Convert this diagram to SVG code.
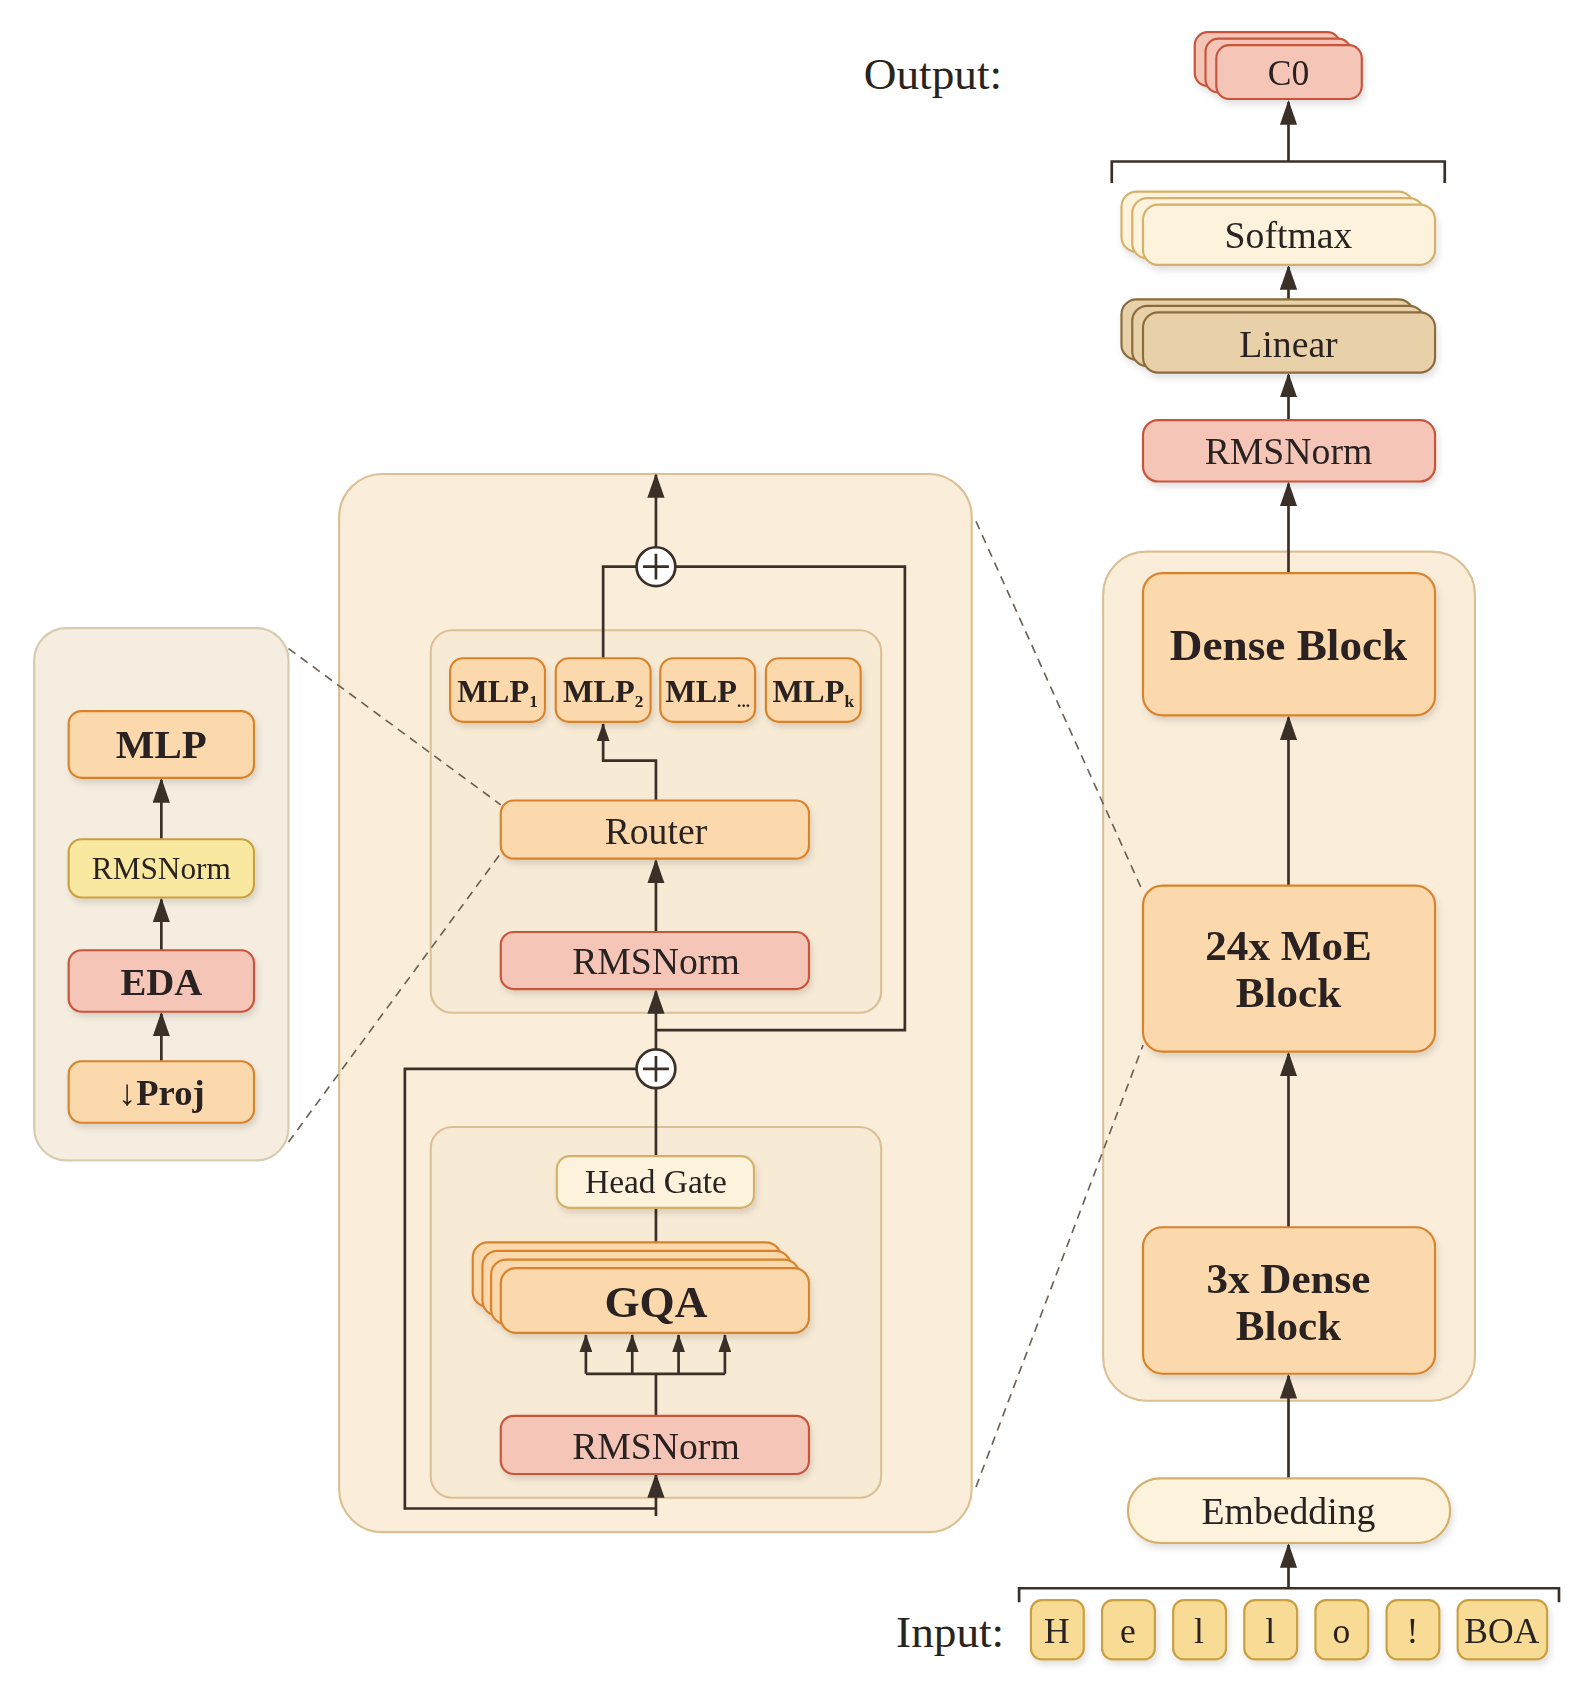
<svg xmlns="http://www.w3.org/2000/svg" width="1584" height="1696" viewBox="0 0 1584 1696">
<style>
text{font-family:"Liberation Serif","Times New Roman",serif;fill:#2a2420;text-anchor:middle;dominant-baseline:central}
.red{fill:#f5c6b8;stroke:#c8553a;stroke-width:2}
.org{fill:#fcd9ad;stroke:#d9822b;stroke-width:2}
.crm{fill:#fdf2dc;stroke:#d4b06a;stroke-width:2}
.tan{fill:#e8d0a8;stroke:#8b6b3a;stroke-width:2}
.yel{fill:#f8dc96;stroke:#c9a040;stroke-width:2}
.ln{fill:none;stroke:#3a3028;stroke-width:2.5}
.dash{fill:none;stroke:#6a5e52;stroke-width:1.5;stroke-dasharray:8 6}
.b{font-weight:bold}
</style>
<defs>
<marker id="ar" markerUnits="userSpaceOnUse" markerWidth="24" markerHeight="16" refX="21" refY="8" orient="auto" viewBox="0 0 24 16"><path d="M0 0 L23 8 L0 16 Z" fill="#3a3028"/></marker>
<marker id="as" markerUnits="userSpaceOnUse" markerWidth="18" markerHeight="12" refX="16" refY="6" orient="auto" viewBox="0 0 18 12"><path d="M0 0 L17 6 L0 12 Z" fill="#3a3028"/></marker>
<filter id="sh" x="-10%" y="-10%" width="130%" height="140%"><feDropShadow dx="2" dy="4" stdDeviation="3" flood-color="#000" flood-opacity="0.12"/></filter>
</defs>
<g transform="translate(4,2) scale(1.0776)">
<g id="panel-right"><rect x="1020" y="510" width="345" height="788" rx="40" fill="#faeedb" stroke="#dcc095" stroke-width="2"/></g>
<g id="panel-mid"><rect x="311" y="438" width="587" height="982" rx="40" fill="#faeedb" stroke="#dcc095" stroke-width="2"/>
<rect x="396" y="583" width="418" height="355" rx="20" fill="#f8ebd6" stroke="#dcc095" stroke-width="2"/>
<rect x="396" y="1044" width="418" height="344" rx="20" fill="#f8ebd6" stroke="#dcc095" stroke-width="2"/></g>
<g id="panel-left"><rect x="28" y="581" width="236" height="494" rx="30" fill="#f5ede0" stroke="#d8cbb0" stroke-width="2"/></g>

<g id="connectors">
<path class="ln" d="M1192 148 V93" marker-end="url(#ar)"/>
<path class="ln" d="M1028 168 V148 H1337 V168"/>
<path class="ln" d="M1192 287 V246" marker-end="url(#ar)"/>
<path class="ln" d="M1192 388 V346" marker-end="url(#ar)"/>
<path class="ln" d="M1192 530 V447" marker-end="url(#ar)"/>
<path class="ln" d="M1192 820 V664" marker-end="url(#ar)"/>
<path class="ln" d="M1192 1137 V976" marker-end="url(#ar)"/>
<path class="ln" d="M1192 1370 V1275" marker-end="url(#ar)"/>
<path class="ln" d="M1192 1472 V1432" marker-end="url(#ar)"/>
<path class="ln" d="M942 1485 V1472 H1443 V1485"/>
<path class="ln" d="M605 506 V439" marker-end="url(#ar)"/>
<path class="ln" d="M623 524 H836 V954 H605"/>
<path class="ln" d="M556 609 V524 H587"/>
<path class="ln" d="M605 741 V704 H556 V670" marker-end="url(#as)"/>
<path class="ln" d="M605 863 V797" marker-end="url(#ar)"/>
<path class="ln" d="M605 972 V918" marker-end="url(#ar)"/>
<path class="ln" d="M587 990 H372 V1398 H605"/>
<path class="ln" d="M605 1405 V1367" marker-end="url(#ar)"/>
<path class="ln" d="M605 1071 V1008"/>
<path class="ln" d="M605 1175 V1119"/>
<path class="ln" d="M605 1312 V1273 M540 1273 H669"/>
<path class="ln" d="M540 1273 V1237" marker-end="url(#as)"/>
<path class="ln" d="M583 1273 V1237" marker-end="url(#as)"/>
<path class="ln" d="M626 1273 V1237" marker-end="url(#as)"/>
<path class="ln" d="M669 1273 V1237" marker-end="url(#as)"/>
<path class="ln" d="M146 777 V722" marker-end="url(#ar)"/>
<path class="ln" d="M146 880 V833" marker-end="url(#ar)"/>
<path class="ln" d="M146 983 V939" marker-end="url(#ar)"/>
<path class="dash" d="M264 600 L461 745 M264 1058 L461 790 M902 482 L1057 826 M902 1378 L1057 968"/>
<g fill="#fff" stroke="#3a3028" stroke-width="2.5"><circle cx="605" cy="524" r="18"/><circle cx="605" cy="990" r="18"/></g>
<path class="ln" d="M593 524 H617 M605 512 V536 M593 990 H617 M605 978 V1002"/>
</g>

<text x="862" y="67" font-size="42">Output:</text>
<g id="c0" filter="url(#sh)"><rect class="red" x="1105" y="28" width="135" height="50" rx="12"/><rect class="red" x="1115" y="34" width="135" height="50" rx="12"/><rect class="red" x="1125" y="40" width="135" height="50" rx="12"/><text x="1192" y="66" font-size="33">C0</text></g>
<g id="softmax" filter="url(#sh)"><rect class="crm" x="1037" y="176" width="271" height="56" rx="14"/><rect class="crm" x="1047" y="182" width="271" height="56" rx="14"/><rect class="crm" x="1057" y="188" width="271" height="56" rx="14"/><text x="1192" y="216" font-size="35">Softmax</text></g>
<g id="linear" filter="url(#sh)"><rect class="tan" x="1037" y="276" width="271" height="56" rx="14"/><rect class="tan" x="1047" y="282" width="271" height="56" rx="14"/><rect class="tan" x="1057" y="288" width="271" height="56" rx="14"/><text x="1192" y="317" font-size="35">Linear</text></g>
<g id="rmsnorm-top" filter="url(#sh)"><rect class="red" x="1057" y="388" width="271" height="57" rx="14"/><text x="1192" y="417" font-size="35">RMSNorm</text></g>
<g id="dense" filter="url(#sh)"><rect class="org" x="1057" y="530" width="271" height="132" rx="18"/><text x="1192" y="597" font-size="42" class="b">Dense Block</text></g>
<g id="moe" filter="url(#sh)"><rect class="org" x="1057" y="820" width="271" height="154" rx="18"/><text x="1192" y="876" font-size="40" class="b">24x MoE</text><text x="1192" y="919" font-size="40" class="b">Block</text></g>
<g id="dense3" filter="url(#sh)"><rect class="org" x="1057" y="1137" width="271" height="136" rx="18"/><text x="1192" y="1185" font-size="40" class="b">3x Dense</text><text x="1192" y="1228" font-size="40" class="b">Block</text></g>
<g id="embedding" filter="url(#sh)"><rect class="crm" x="1043" y="1370" width="299" height="60" rx="30"/><text x="1192" y="1400" font-size="35">Embedding</text></g>
<text x="878" y="1513" font-size="42">Input:</text>
<g id="tokens" filter="url(#sh)">
<rect class="yel" x="953" y="1483" width="49" height="55" rx="10"/><text x="977" y="1512" font-size="33">H</text>
<rect class="yel" x="1019" y="1483" width="49" height="55" rx="10"/><text x="1043" y="1512" font-size="33">e</text>
<rect class="yel" x="1085" y="1483" width="49" height="55" rx="10"/><text x="1109" y="1512" font-size="33">l</text>
<rect class="yel" x="1151" y="1483" width="49" height="55" rx="10"/><text x="1175" y="1512" font-size="33">l</text>
<rect class="yel" x="1217" y="1483" width="49" height="55" rx="10"/><text x="1241" y="1512" font-size="33">o</text>
<rect class="yel" x="1283" y="1483" width="49" height="55" rx="10"/><text x="1307" y="1512" font-size="33">!</text>
<rect class="yel" x="1349" y="1483" width="83" height="55" rx="10"/><text x="1390" y="1512" font-size="33">BOA</text>
</g>

<g id="mlps" filter="url(#sh)">
<rect class="org" x="414" y="609" width="88" height="59" rx="12"/><text x="458" y="639" font-size="30" class="b">MLP<tspan font-size="16" dy="10">1</tspan></text>
<rect class="org" x="512" y="609" width="88" height="59" rx="12"/><text x="556" y="639" font-size="30" class="b">MLP<tspan font-size="16" dy="10">2</tspan></text>
<rect class="org" x="609" y="609" width="88" height="59" rx="12"/><text x="653" y="639" font-size="30" class="b">MLP<tspan font-size="16" dy="10">...</tspan></text>
<rect class="org" x="707" y="609" width="88" height="59" rx="12"/><text x="751" y="639" font-size="30" class="b">MLP<tspan font-size="16" dy="10">k</tspan></text>
</g>
<g id="router" filter="url(#sh)"><rect class="org" x="461" y="741" width="286" height="54" rx="12"/><text x="605" y="769" font-size="35">Router</text></g>
<g id="rmsnorm-mid1" filter="url(#sh)"><rect class="red" x="461" y="863" width="286" height="53" rx="12"/><text x="605" y="890" font-size="35">RMSNorm</text></g>
<g id="headgate" filter="url(#sh)"><rect class="crm" x="513" y="1071" width="183" height="48" rx="12"/><text x="605" y="1095" font-size="31">Head Gate</text></g>
<g id="gqa" filter="url(#sh)"><rect class="org" x="435" y="1151" width="286" height="60" rx="14"/><rect class="org" x="444" y="1159" width="286" height="60" rx="14"/><rect class="org" x="452" y="1167" width="286" height="60" rx="14"/><rect class="org" x="461" y="1175" width="286" height="60" rx="14"/><text x="605" y="1206" font-size="42" class="b">GQA</text></g>
<g id="rmsnorm-mid2" filter="url(#sh)"><rect class="red" x="461" y="1312" width="286" height="54" rx="12"/><text x="605" y="1340" font-size="35">RMSNorm</text></g>

<g id="l-mlp" filter="url(#sh)"><rect class="org" x="60" y="658" width="172" height="62" rx="12"/><text x="146" y="689" font-size="38" class="b">MLP</text></g>
<g id="l-rms" filter="url(#sh)"><rect class="yel" style="fill:#f8e8a0" x="60" y="777" width="172" height="54" rx="12"/><text x="146" y="804" font-size="29">RMSNorm</text></g>
<g id="l-eda" filter="url(#sh)"><rect class="red" x="60" y="880" width="172" height="57" rx="12"/><text x="146" y="909" font-size="36" class="b">EDA</text></g>
<g id="l-proj" filter="url(#sh)"><rect class="org" x="60" y="983" width="172" height="57" rx="12"/><text x="146" y="1012" font-size="34" class="b">↓Proj</text></g>
</g>
</svg>
